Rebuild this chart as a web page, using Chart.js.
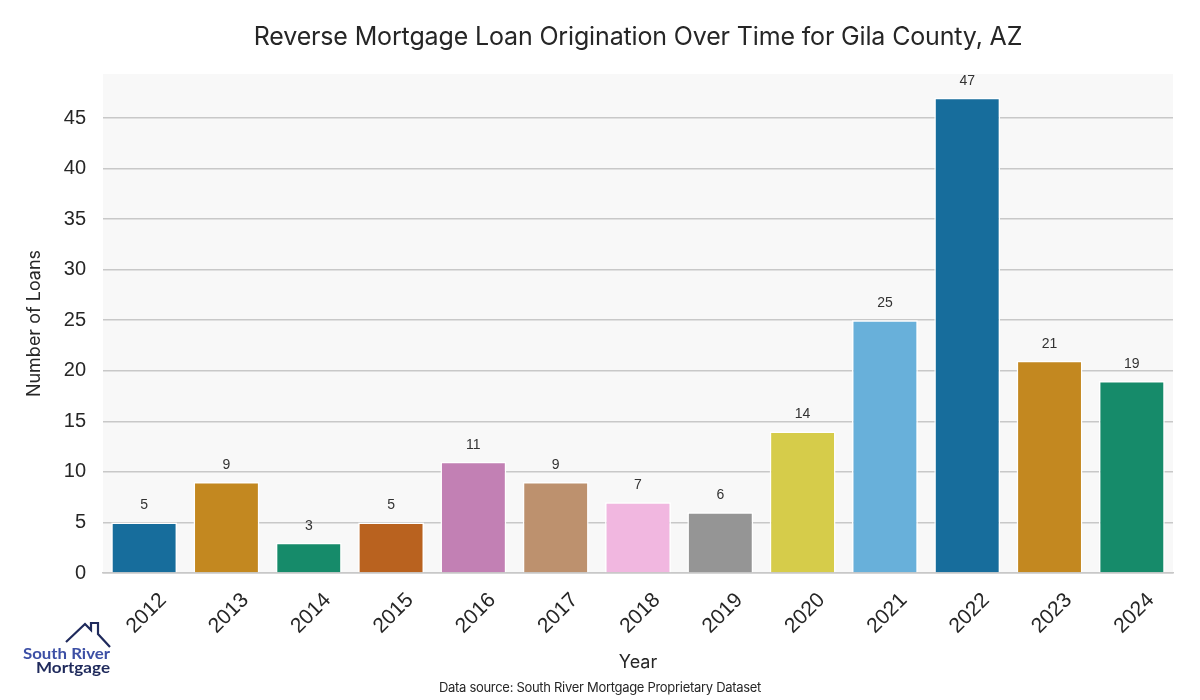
<!DOCTYPE html>
<html>
<head>
<meta charset="utf-8">
<script src="https://cdn.jsdelivr.net/npm/chart.js@4"></script>
<style>
  html, body { margin: 0; padding: 0; background: #ffffff; }
  #wrap { position: relative; width: 1200px; height: 700px; }
  canvas { position: absolute; left: 0; top: 0; }
  .title { position: absolute; left: 103px; width: 1070px; top: 21px; text-align: center;
           font-family: Inter, Lato, sans-serif; font-size: 25px; color: #262626; letter-spacing: -0.15px; }
  .source { position: absolute; left: 0; width: 1200px; top: 679px; text-align: center;
           font-family: Inter, Lato, sans-serif; font-size: 13px; color: #262626; letter-spacing: -0.3px; }
  .logo { position: absolute; left: 20px; top: 620px; width: 100px; height: 62px; }
</style>
</head>
<body>
<div id="wrap">
  <canvas id="c" width="1200" height="700"></canvas>
  <div class="title">Reverse Mortgage Loan Origination Over Time for Gila County, AZ</div>
  <div class="source">Data source: South River Mortgage Proprietary Dataset</div>
  <svg class="logo" viewBox="0 0 100 62" xmlns="http://www.w3.org/2000/svg">
    <polyline points="46,22 65,4 71,10 71,3 78,3 78,14 90,27" fill="none" stroke="#1f2a5c" stroke-width="2.2" stroke-linejoin="miter"/>
    <text x="3" y="39" font-family="Lato, Inter, sans-serif" font-size="16" font-weight="700" fill="#3c4fa5" textLength="87" lengthAdjust="spacingAndGlyphs">South River</text>
    <text x="16" y="53" font-family="Lato, Inter, sans-serif" font-size="16" font-weight="700" fill="#1f2a5c" textLength="74" lengthAdjust="spacingAndGlyphs">Mortgage</text>
  </svg>
</div>
<script>
const years = ['2012','2013','2014','2015','2016','2017','2018','2019','2020','2021','2022','2023','2024'];
const loans = [5, 9, 3, 5, 11, 9, 7, 6, 14, 25, 47, 21, 19];
const barColors = ['#176d9c','#c38820','#168b6a','#b9621f','#c280b4','#bd916e','#f1b7e0','#959595','#d6cc4a','#68b0da','#176d9c','#c38820','#168b6a'];
const yTicks = [0, 5, 10, 15, 20, 25, 30, 35, 40, 45];

const bgPlugin = {
  id: 'bg',
  beforeDraw(chart) {
    const {ctx, chartArea: a} = chart;
    ctx.save();
    ctx.fillStyle = '#f8f8f8';
    ctx.fillRect(a.left, a.top, a.right - a.left, a.bottom - a.top);
    ctx.restore();
  }
};

const labelPlugin = {
  id: 'vals',
  afterDatasetsDraw(chart) {
    const {ctx} = chart;
    const meta = chart.getDatasetMeta(0);
    ctx.save();
    ctx.font = '14px "Liberation Sans", Arial, sans-serif';
    ctx.fillStyle = '#333333';
    ctx.textAlign = 'center';
    ctx.textBaseline = 'alphabetic';
    meta.data.forEach((bar, i) => {
      ctx.fillText(String(loans[i]), bar.x, bar.y - 13);
    });
    ctx.restore();
  }
};

new Chart(document.getElementById('c'), {
  type: 'bar',
  data: {
    labels: years,
    datasets: [{
      data: loans,
      backgroundColor: barColors,
      borderColor: '#ffffff',
      borderWidth: 1.5,
      barPercentage: 0.8,
      categoryPercentage: 1.0
    }]
  },
  options: {
    responsive: false,
    animation: false,
    layout: { padding: { top: 74, right: 27, left: 0, bottom: 0 } },
    plugins: { legend: { display: false }, tooltip: { enabled: false }, title: { display: false } },
    scales: {
      x: {
        grid: { display: false, drawTicks: false },
        border: { display: true, color: '#c8c8c8', width: 1.5 },
        ticks: {
          color: '#262626',
          font: { family: '"Liberation Sans", Arial, sans-serif', size: 21 },
          minRotation: 45, maxRotation: 45,
          labelOffset: 19,
          padding: 15,
          autoSkip: false
        },
        title: {
          display: true, text: 'Year', color: '#262626',
          font: { family: 'Inter, Lato, sans-serif', size: 18 },
          padding: { top: 0, bottom: 27 }
        },
        afterFit(scale) { scale.height = 127; }
      },
      y: {
        min: 0, max: 49.35,
        afterBuildTicks(scale) { scale.ticks = yTicks.map(v => ({ value: v })); },
        grid: { color: '#c8c8c8', lineWidth: 1.5, drawTicks: false },
        border: { display: false },
        ticks: {
          color: '#262626',
          font: { family: '"Liberation Sans", Arial, sans-serif', size: 20 },
          padding: 17
        },
        title: {
          display: true, text: 'Number of Loans', color: '#262626',
          font: { family: 'Inter, Lato, sans-serif', size: 18 },
          padding: { top: 24, bottom: 0 }
        },
        afterFit(scale) { scale.width = 103; }
      }
    }
  },
  plugins: [bgPlugin, labelPlugin]
});
</script>
</body>
</html>
